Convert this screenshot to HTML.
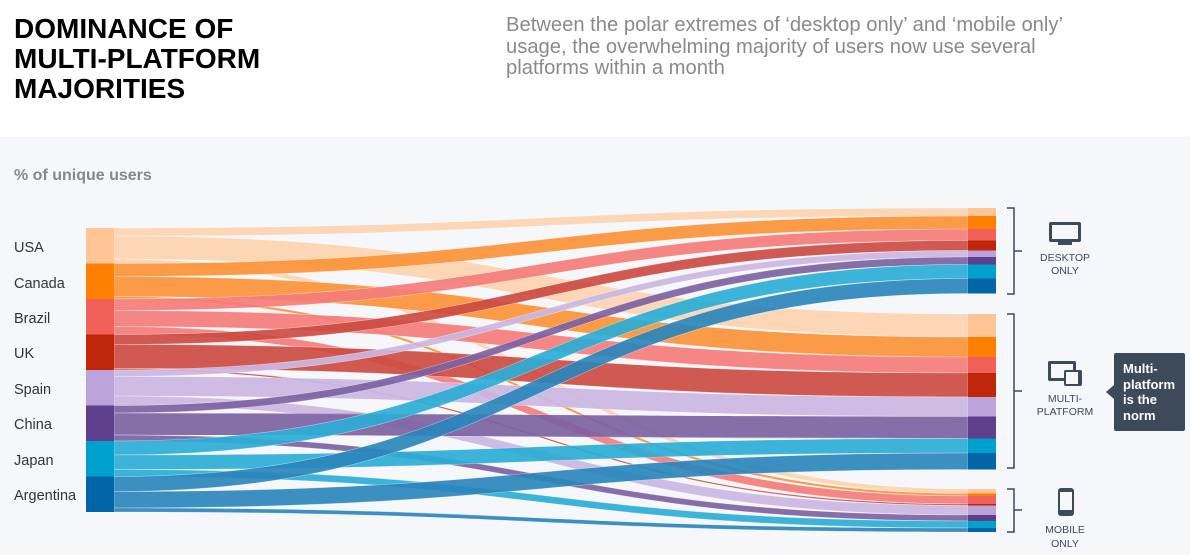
<!DOCTYPE html>
<html><head><meta charset="utf-8"><style>
body{margin:0;width:1190px;height:555px;overflow:hidden;background:#fff;font-family:"Liberation Sans",sans-serif;position:relative}
.t{position:absolute;left:14px;top:14px;font-size:28px;font-weight:bold;line-height:30px;color:#000}
.s{position:absolute;left:506px;top:15px;font-size:20.2px;line-height:21.5px;color:#8a8a8a}
.bg{position:absolute;left:0;top:137px;width:1190px;height:418px;background:#f5f7fb}
svg{position:absolute;left:0;top:0}
</style></head><body>
<div class="t">DOMINANCE OF<br>MULTI-PLATFORM<br>MAJORITIES</div>
<div class="s">Between the polar extremes of ‘desktop only’ and ‘mobile only’<br>usage, the overwhelming majority of users now use several<br>platforms within a month</div>
<div class="bg"></div>
<svg id="c" width="1190" height="555" xmlns="http://www.w3.org/2000/svg" font-family="Liberation Sans, sans-serif">
<text x="14" y="180" font-size="16" font-weight="bold" fill="#888">% of unique users</text>
<g font-size="14.5" fill="#333">
<text x="14" y="252">USA</text><text x="14" y="288">Canada</text><text x="14" y="323">Brazil</text><text x="14" y="358">UK</text>
<text x="14" y="394">Spain</text><text x="14" y="429">China</text><text x="14" y="465">Japan</text><text x="14" y="500">Argentina</text>
</g>
<g id="flows"></g>
<g fill="none" stroke="#3d4a5a" stroke-width="1.5">
<path d="M1007 208H1014V294H1007M1014 251H1022"/>
<path d="M1007 314H1014V468H1007M1014 391H1022"/>
<path d="M1007 489H1014V532H1007M1014 510H1022"/>
</g>
<g fill="#3d4a5a">
<rect x="1049" y="222" width="32" height="20" rx="2"/><rect x="1052" y="225" width="26" height="14" fill="#f5f7fb"/><rect x="1058" y="242" width="14" height="3"/>
<rect x="1048" y="361" width="28" height="20" rx="2"/><rect x="1051" y="364" width="22" height="14" fill="#f5f7fb"/>
<rect x="1064" y="370" width="18" height="16" rx="2" fill="#3d4a5a"/><rect x="1066" y="372" width="12" height="12" fill="#f5f7fb"/>
<rect x="1058" y="488" width="16" height="28" rx="3"/><rect x="1060" y="492" width="12" height="18" fill="#f5f7fb"/>
</g>
<g font-size="10.5" fill="#3d4a5a" text-anchor="middle">
<text x="1065" y="261">DESKTOP</text><text x="1065" y="274">ONLY</text>
<text x="1065" y="402">MULTI-</text><text x="1065" y="415">PLATFORM</text>
<text x="1065" y="533">MOBILE</text><text x="1065" y="547">ONLY</text>
</g>
<rect x="1114" y="353" width="71" height="78" rx="2" fill="#3d4a5a"/>
<path d="M1114 385L1106 392L1114 399Z" fill="#3d4a5a"/>
<g font-size="13" font-weight="bold" fill="#fff">
<text x="1123" y="373">Multi-</text><text x="1123" y="389">platform</text><text x="1123" y="404">is the</text><text x="1123" y="420">norm</text>
</g>
</svg>
<script>
var C=[
["#ffc597","#fdd3b0",8,23,4.5],
["#ff7f00","#fb9238",13,20,2.5],
["#f2605a","#f47c79",11.5,16,8],
["#c0260a","#cc4b42",10,24,1.5],
["#bda3dc","#cab6e3",6.5,19.5,9.5],
["#5e3f8c","#7c62a2",7.5,22,6],
["#00a0cc","#2badd6",14,14.5,7],
["#0066a8","#2a86bc",15,16.5,4]];
var g=document.getElementById('flows');
var rs=[208,314,489],L=228,x0=114,x1=968,xm=541;
var paths=[],blocks="";
C.forEach(function(c,i){
 var top=L+i*35.5,y=top;
 blocks+='<rect x="86" y="'+top+'" width="28" height="35.5" fill="'+c[0]+'"/>';
 for(var k=0;k<3;k++){
  var w=c[2+k],a=y,b=rs[k];
  paths.push('<path d="M'+x0+' '+a+'C'+xm+' '+a+' '+xm+' '+b+' '+x1+' '+b+'V'+(b+w)+'C'+xm+' '+(b+w)+' '+xm+' '+(a+w)+' '+x0+' '+(a+w)+'Z" fill="'+c[1]+'" fill-opacity="0.92" stroke="#fff" stroke-opacity="0.5" stroke-width="0.6"/>');
  blocks+='<rect x="968" y="'+b+'" width="28" height="'+w+'" fill="'+c[0]+'"/>';
  y+=w;rs[k]+=w;
 }
});
g.innerHTML=paths.join("")+blocks;
</script>
</body></html>
